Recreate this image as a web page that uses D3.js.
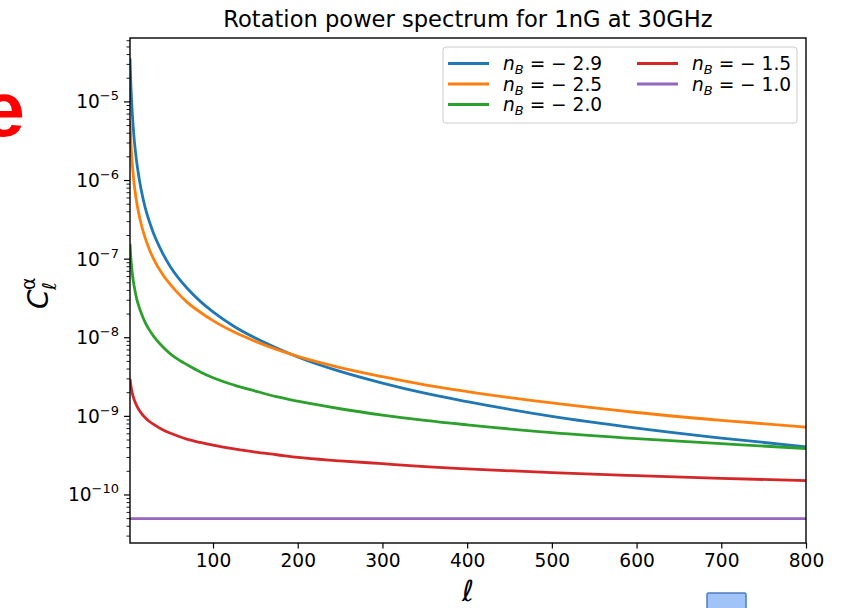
<!DOCTYPE html>
<html>
<head>
<meta charset="utf-8">
<script src="https://cdn.jsdelivr.net/npm/d3@7"></script>
<style>
  html, body { margin: 0; padding: 0; background: #fff; }
  svg { display: block; font-family: "DejaVu Sans", sans-serif; }
</style>
</head>
<body>
<svg id="chart" width="841" height="608"></svg>
<script>
// Multipoles at which the spectra are sampled
const ells = [2, 3, 4, 5, 6, 7, 8, 10, 12, 15, 20, 25, 30, 40, 50, 60, 70, 85, 100, 125, 150, 175, 200, 250, 300, 350, 400, 500, 600, 700, 800];

// Rotation power spectrum C_l^alpha for each spectral index n_B
const cl_m29 = [3.6e-5, 1.67e-5, 9.7e-6, 6.3e-6, 4.47e-6, 3.3e-6, 2.59e-6, 1.69e-6, 1.2e-6, 7.8e-7, 4.5e-7, 2.97e-7, 2.1e-7, 1.22e-7, 7.9e-8, 5.6e-8, 4.2e-8, 2.9e-8, 2.13e-8, 1.39e-8, 9.9e-9, 7.4e-9, 5.7e-9, 3.73e-9, 2.65e-9, 1.97e-9, 1.54e-9, 1.0e-9, 7.1e-10, 5.3e-10, 4.1e-10];
const cl_m25 = [5.8e-6, 3.2e-6, 2.07e-6, 1.48e-6, 1.12e-6, 8.9e-7, 7.3e-7, 5.2e-7, 3.97e-7, 2.84e-7, 1.85e-7, 1.32e-7, 1.0e-7, 6.5e-8, 4.7e-8, 3.56e-8, 2.8e-8, 2.11e-8, 1.65e-8, 1.18e-8, 9.0e-9, 7.1e-9, 5.8e-9, 4.18e-9, 3.2e-9, 2.52e-9, 2.07e-9, 1.48e-9, 1.12e-9, 8.9e-10, 7.3e-10];
const cl_m20 = [1.56e-7, 1.04e-7, 7.8e-8, 6.2e-8, 5.2e-8, 4.5e-8, 3.9e-8, 3.1e-8, 2.6e-8, 2.1e-8, 1.56e-8, 1.25e-8, 1.04e-8, 7.8e-9, 6.2e-9, 5.2e-9, 4.5e-9, 3.67e-9, 3.1e-9, 2.5e-9, 2.1e-9, 1.78e-9, 1.56e-9, 1.25e-9, 1.04e-9, 8.9e-10, 7.8e-10, 6.2e-10, 5.2e-10, 4.5e-10, 3.9e-10];
const cl_m15 = [3.0e-9, 2.48e-9, 2.15e-9, 1.92e-9, 1.76e-9, 1.63e-9, 1.52e-9, 1.36e-9, 1.24e-9, 1.11e-9, 9.6e-10, 8.6e-10, 7.9e-10, 6.8e-10, 6.1e-10, 5.55e-10, 5.1e-10, 4.66e-10, 4.3e-10, 3.85e-10, 3.5e-10, 3.25e-10, 3.0e-10, 2.72e-10, 2.5e-10, 2.3e-10, 2.15e-10, 1.92e-10, 1.76e-10, 1.63e-10, 1.52e-10];
const cl_m10 = [5e-11, 5e-11, 5e-11, 5e-11, 5e-11, 5e-11, 5e-11, 5e-11, 5e-11, 5e-11, 5e-11, 5e-11, 5e-11, 5e-11, 5e-11, 5e-11, 5e-11, 5e-11, 5e-11, 5e-11, 5e-11, 5e-11, 5e-11, 5e-11, 5e-11, 5e-11, 5e-11, 5e-11, 5e-11, 5e-11, 5e-11];

const seriesLabels = ["\u2212 2.9", "\u2212 2.5", "\u2212 2.0", "\u2212 1.5", "\u2212 1.0"];
const seriesColors = ["#1f77b4", "#ff7f0e", "#2ca02c", "#d62728", "#9467bd"];
const seriesValues = [cl_m29, cl_m25, cl_m20, cl_m15, cl_m10];

const xTicks = [100, 200, 300, 400, 500, 600, 700, 800];
const yExponents = [-10, -9, -8, -7, -6, -5];

const svg = d3.select("#chart");
const plot = { left: 130, right: 806, top: 38, bottom: 543 };

const x = d3.scaleLinear().domain([2, 800]).range([plot.left, plot.right]);
const y = d3.scaleLog().domain([2.45e-11, 6.5e-5]).range([plot.bottom, plot.top]);

// Stray content at the page edges
svg.append("text")
  .attr("x", 25).attr("y", 136)
  .attr("text-anchor", "end")
  .style("font-family", "'Liberation Sans', Arial, sans-serif")
  .style("font-weight", "bold")
  .style("font-size", "78px")
  .attr("fill", "#ff0000")
  .text("e");
svg.append("rect")
  .attr("x", 707).attr("y", 593).attr("width", 39).attr("height", 22)
  .attr("rx", 1.5)
  .attr("fill", "#a0c4f8").attr("stroke", "#4a7cc2").attr("stroke-width", 1.5);

// Title
svg.append("text")
  .attr("x", (plot.left + plot.right) / 2).attr("y", 27)
  .attr("text-anchor", "middle")
  .style("font-size", "22.6px")
  .attr("fill", "#000")
  .text("Rotation power spectrum for 1nG at 30GHz");

// Clip region for the curves
svg.append("clipPath").attr("id", "clip")
  .append("rect")
  .attr("x", plot.left).attr("y", plot.top)
  .attr("width", plot.right - plot.left).attr("height", plot.bottom - plot.top);

const line = d3.line()
  .x(d => x(d[0]))
  .y(d => y(d[1]))
  .curve(d3.curveMonotoneX);

const curves = svg.append("g").attr("clip-path", "url(#clip)");
seriesValues.forEach((vals, i) => {
  curves.append("path")
    .datum(ells.map((l, j) => [l, vals[j]]))
    .attr("fill", "none")
    .attr("stroke", seriesColors[i])
    .attr("stroke-width", 2.8)
    .attr("stroke-linejoin", "round")
    .attr("d", line);
});

// X axis
const xAxis = d3.axisBottom(x).tickValues(xTicks).tickSize(5.5).tickPadding(5).tickFormat(d3.format("d"));
const gx = svg.append("g").attr("transform", `translate(0,${plot.bottom})`).call(xAxis);
gx.select(".domain").remove();
gx.selectAll(".tick line").attr("stroke", "#000").attr("stroke-width", 1.2);
gx.selectAll(".tick text").style("font-size", "18.6px").style("font-family", "'DejaVu Sans', sans-serif").attr("fill", "#000");

// Y axis: major decades and minor ticks
const minorTicks = [];
for (let e = -11; e <= -5; e++) {
  for (let k = 2; k <= 9; k++) {
    const v = k * Math.pow(10, e);
    if (v >= y.domain()[0] && v <= y.domain()[1]) minorTicks.push(v);
  }
}
const gy = svg.append("g");
gy.selectAll("line.minor").data(minorTicks).join("line")
  .attr("class", "minor")
  .attr("x1", plot.left - 3.5).attr("x2", plot.left)
  .attr("y1", d => y(d)).attr("y2", d => y(d))
  .attr("stroke", "#000").attr("stroke-width", 0.9);
const majors = yExponents.map(e => Math.pow(10, e));
gy.selectAll("line.major").data(majors).join("line")
  .attr("class", "major")
  .attr("x1", plot.left - 6).attr("x2", plot.left)
  .attr("y1", d => y(d)).attr("y2", d => y(d))
  .attr("stroke", "#000").attr("stroke-width", 1.2);
const yLab = gy.selectAll("text.ylab").data(yExponents).join("text")
  .attr("class", "ylab")
  .attr("x", plot.left - 11)
  .attr("y", e => y(Math.pow(10, e)) + 6.5)
  .attr("text-anchor", "end")
  .style("font-size", "18.6px")
  .attr("fill", "#000");
yLab.append("tspan").text("10");
yLab.append("tspan").attr("dy", -8).style("font-size", "13px").text(e => "\u2212" + Math.abs(e));

// Frame
svg.append("rect")
  .attr("x", plot.left).attr("y", plot.top)
  .attr("width", plot.right - plot.left).attr("height", plot.bottom - plot.top)
  .attr("fill", "none").attr("stroke", "#000").attr("stroke-width", 1.4);

// Axis labels
svg.append("text")
  .attr("x", (plot.left + plot.right) / 2).attr("y", 601)
  .attr("text-anchor", "middle")
  .style("font-size", "29px").style("font-style", "italic")
  .attr("fill", "#000")
  .text("\u2113");

const yl = svg.append("g").attr("transform", "translate(48,292) rotate(-90)");
yl.append("text").attr("x", -17).attr("y", 0)
  .style("font-size", "28px").style("font-style", "italic").attr("fill", "#000").text("C");
yl.append("text").attr("x", 2).attr("y", 8)
  .style("font-size", "19px").style("font-style", "italic").attr("fill", "#000").text("\u2113");
yl.append("text").attr("x", 2).attr("y", -13)
  .style("font-size", "19px").attr("fill", "#000").text("\u03b1");

// Legend
const legend = svg.append("g");
legend.append("rect")
  .attr("x", 443).attr("y", 47).attr("width", 354).attr("height", 76)
  .attr("rx", 3)
  .attr("fill", "#fff").attr("fill-opacity", 0.8)
  .attr("stroke", "#cccccc").attr("stroke-width", 1);
const colX = [448, 637];
const rowY = [63.5, 84, 104.5];
seriesLabels.forEach((lab, i) => {
  const col = i < 3 ? 0 : 1;
  const row = i < 3 ? i : i - 3;
  const lx = colX[col], ly = rowY[row];
  legend.append("line")
    .attr("x1", lx).attr("x2", lx + 41)
    .attr("y1", ly).attr("y2", ly)
    .attr("stroke", seriesColors[i]).attr("stroke-width", 2.8);
  const t = legend.append("text")
    .attr("x", lx + 55).attr("y", ly + 6.5)
    .style("font-size", "18.6px").attr("fill", "#000");
  t.append("tspan").style("font-style", "italic").text("n");
  t.append("tspan").attr("dy", 4).style("font-size", "13px").style("font-style", "italic").text("B");
  t.append("tspan").attr("dy", -4).text(" = " + lab);
});
</script>
</body>
</html>
